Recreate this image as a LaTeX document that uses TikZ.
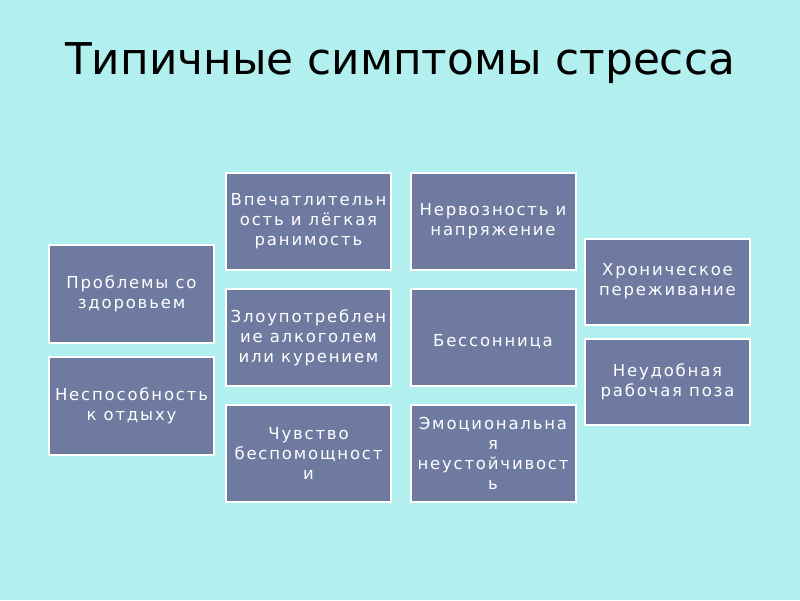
\documentclass[tikz,border=0pt]{standalone}
\usepackage{fontspec}
\setmainfont{DejaVu Sans}
\newfontfamily\boxfont[LetterSpace=11]{DejaVu Sans}
\usetikzlibrary{positioning}
\definecolor{bgcyan}{RGB}{178,240,240}
\definecolor{boxslate}{RGB}{111,122,160}

\begin{document}
\begin{tikzpicture}[
    x=1pt,
    y=-1pt,
    node distance=17pt,
    symptom box/.style={rectangle,draw=white,line width=2pt,fill=boxslate,text=white,
      minimum width=165pt,minimum height=97pt,inner sep=1pt,align=center,
      font=\boxfont\fontsize{16.5}{20}\selectfont,
      execute at begin node={\rule{0pt}{20pt}}},
    short box/.style={symptom box,minimum height=86pt}]

  \fill[bgcyan] (0,0) rectangle (800,600);
  \useasboundingbox (0,0) rectangle (800,600);

  \node[font=\fontsize{43.8}{50}\selectfont] (title) at (400,63) {Типичные симптомы стресса};

  % left column
  \node[symptom box,minimum height=98pt] (Health) at (131.5,294) {Проблемы со\\здоровьем};
  \node[symptom box,minimum height=98pt] (Rest) [below=12pt of Health] {Неспособность\\к отдыху};

  % second column
  \node[symptom box] (Impress) at (308.5,221.5) {Впечатлительн\\ость и лёгкая\\ранимость};
  \node[symptom box] (Alcohol) [below=of Impress] {Злоупотреблен\\ие алкоголем\\или курением};
  \node[symptom box] (Helpless) [below=of Alcohol] {Чувство\\беспомощност\\и};

  % third column
  \node[symptom box] (Nerves) at (493,221.5) {Нервозность и\\напряжение};
  \node[symptom box] (Insomnia) [below=of Nerves] {Бессонница};
  \node[symptom box] (Emotion) [below=of Insomnia] {Эмоциональна\\я\\неустойчивост\\ь};

  % right column
  \node[short box] (Chronic) at (667.5,281.5) {Хроническое\\переживание};
  \node[short box] (Posture) [below=12pt of Chronic] {Неудобная\\рабочая поза};
\end{tikzpicture}
\end{document}
